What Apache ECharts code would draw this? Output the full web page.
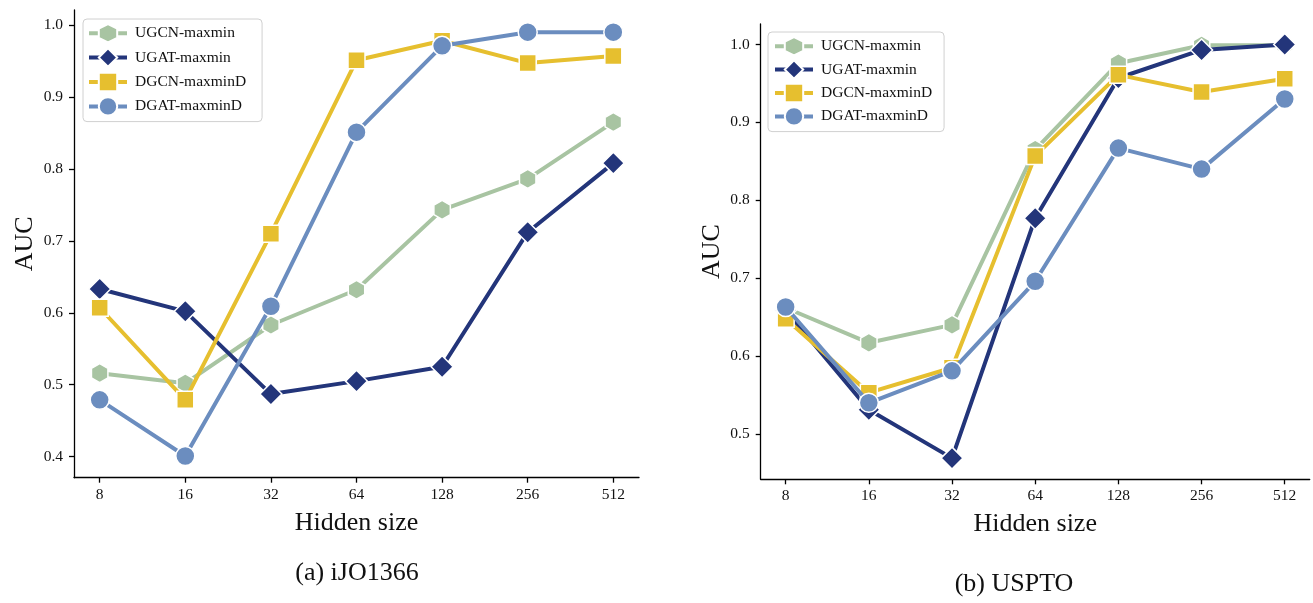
<!DOCTYPE html>
<html><head><meta charset="utf-8">
<script src="https://cdn.jsdelivr.net/npm/echarts@6/dist/echarts.min.js"></script>
<style>html,body{margin:0;padding:0;background:#fff}#c{width:1313px;height:603px}</style>
</head><body><div id="c"></div>
<script>
const hiddenSizes = ['8','16','32','64','128','256','512'];
const yTicksA = [0.4,0.5,0.6,0.7,0.8,0.9,1.0];
const yTicksB = [0.5,0.6,0.7,0.8,0.9,1.0];
const seriesNames = ['UGCN-maxmin','UGAT-maxmin','DGCN-maxminD','DGAT-maxminD'];
// (a) iJO1366
const a_UGCN = [0.516,0.502,0.583,0.632,0.743,0.786,0.865];
const a_UGAT = [0.633,0.602,0.487,0.505,0.525,0.712,0.808];
const a_DGCN = [0.607,0.479,0.710,0.951,0.978,0.947,0.957];
const a_DGAT = [0.479,0.401,0.609,0.851,0.971,0.990,0.990];
// (b) USPTO
const b_UGCN = [0.662,0.617,0.640,0.865,0.976,0.999,0.999];
const b_UGAT = [0.659,0.531,0.469,0.777,0.957,0.993,1.000];
const b_DGCN = [0.648,0.553,0.585,0.857,0.961,0.939,0.956];
const b_DGAT = [0.663,0.540,0.581,0.696,0.867,0.840,0.930];

const colors = ['#a8c4a2','#23357a','#e6bf2f','#6b8dbf'];
const hexPath = 'path://M0,-1 L0.866,-0.5 L0.866,0.5 L0,1 L-0.866,0.5 L-0.866,-0.5 Z';
const symbols = [hexPath,'diamond','rect','circle'];
const symbolSizes = [19,22,17,19];
const FONT = '"Liberation Serif","Times New Roman",serif';
const idx = hiddenSizes.map((_, i) => i);

function mkSeries(arrs, ax) {
  return arrs.map((vals, k) => ({
    name: seriesNames[k], type: 'line', xAxisIndex: ax, yAxisIndex: ax,
    data: vals.map((v, i) => [i, v]),
    symbol: symbols[k], symbolSize: symbolSizes[k], symbolKeepAspect: true,
    lineStyle: {color: colors[k], width: 4},
    itemStyle: {color: colors[k], borderColor: '#fff', borderWidth: 1.5},
    z: 2 + k, animation: false
  }));
}
function mkX(grid) {
  return {
    type: 'value', gridIndex: grid, min: -0.3, max: 6.3,
    name: 'Hidden size', nameLocation: 'middle', nameGap: 32, nameMoveOverlap: false,
    nameTextStyle: {fontFamily: FONT, fontSize: 26, color: '#111'},
    axisLine: {onZero: false, lineStyle: {color: '#000', width: 1.3}},
    axisTick: {show: true, customValues: idx, length: 5, lineStyle: {color: '#000', width: 1.3}},
    axisLabel: {customValues: idx, formatter: v => hiddenSizes[Math.round(v)], fontFamily: FONT, fontSize: 15.5, color: '#111', margin: 9},
    splitLine: {show: false}
  };
}
function mkY(grid, min, max, ticks) {
  return {
    type: 'value', gridIndex: grid, min: min, max: max,
    name: 'AUC', nameLocation: 'middle', nameRotate: 90, nameGap: 36, nameMoveOverlap: false,
    nameTextStyle: {fontFamily: FONT, fontSize: 26, color: '#111'},
    axisLine: {show: true, onZero: false, lineStyle: {color: '#000', width: 1.3}},
    axisTick: {show: true, customValues: ticks, length: 5, lineStyle: {color: '#000', width: 1.3}},
    axisLabel: {customValues: ticks, formatter: v => v.toFixed(1), fontFamily: FONT, fontSize: 15.5, color: '#111', margin: 11},
    splitLine: {show: false}
  };
}
function mkLegend(left, top, gap, pad) {
  return {
    left: left, top: top, orient: 'vertical', itemWidth: 38, itemHeight: 23, itemGap: gap,
    padding: pad, borderColor: '#d0d0d0', borderWidth: 1, borderRadius: 4, backgroundColor: '#fff',
    lineStyle: {width: 4},
    textStyle: {fontFamily: FONT, fontSize: 15.5, color: '#111', padding: [0,0,0,3]},
    data: seriesNames
  };
}
const chart = echarts.init(document.getElementById('c'), null, {renderer: 'canvas'});
chart.setOption({
  backgroundColor: '#fff',
  animation: false,
  grid: [
    {left: 74, top: 10, width: 565, height: 467.7},
    {left: 760.7, top: 24, width: 549, height: 455.3}
  ],
  xAxis: [mkX(0), mkX(1)],
  yAxis: [mkY(0, 0.3708, 1.0208, yTicksA), mkY(1, 0.4418, 1.0263, yTicksB)],
  legend: [mkLegend(83, 19, 4, [4,16,5,4]), mkLegend(768, 32, 3, [4,12,5,5])],
  graphic: [
    {type: 'text', x: 357, y: 573, style: {text: '(a) iJO1366', font: '26px ' + FONT, fill: '#111', align: 'center', verticalAlign: 'middle'}},
    {type: 'text', x: 1014, y: 584, style: {text: '(b) USPTO', font: '26px ' + FONT, fill: '#111', align: 'center', verticalAlign: 'middle'}}
  ],
  series: [...mkSeries([a_UGCN, a_UGAT, a_DGCN, a_DGAT], 0), ...mkSeries([b_UGCN, b_UGAT, b_DGCN, b_DGAT], 1)]
});
</script></body></html>
